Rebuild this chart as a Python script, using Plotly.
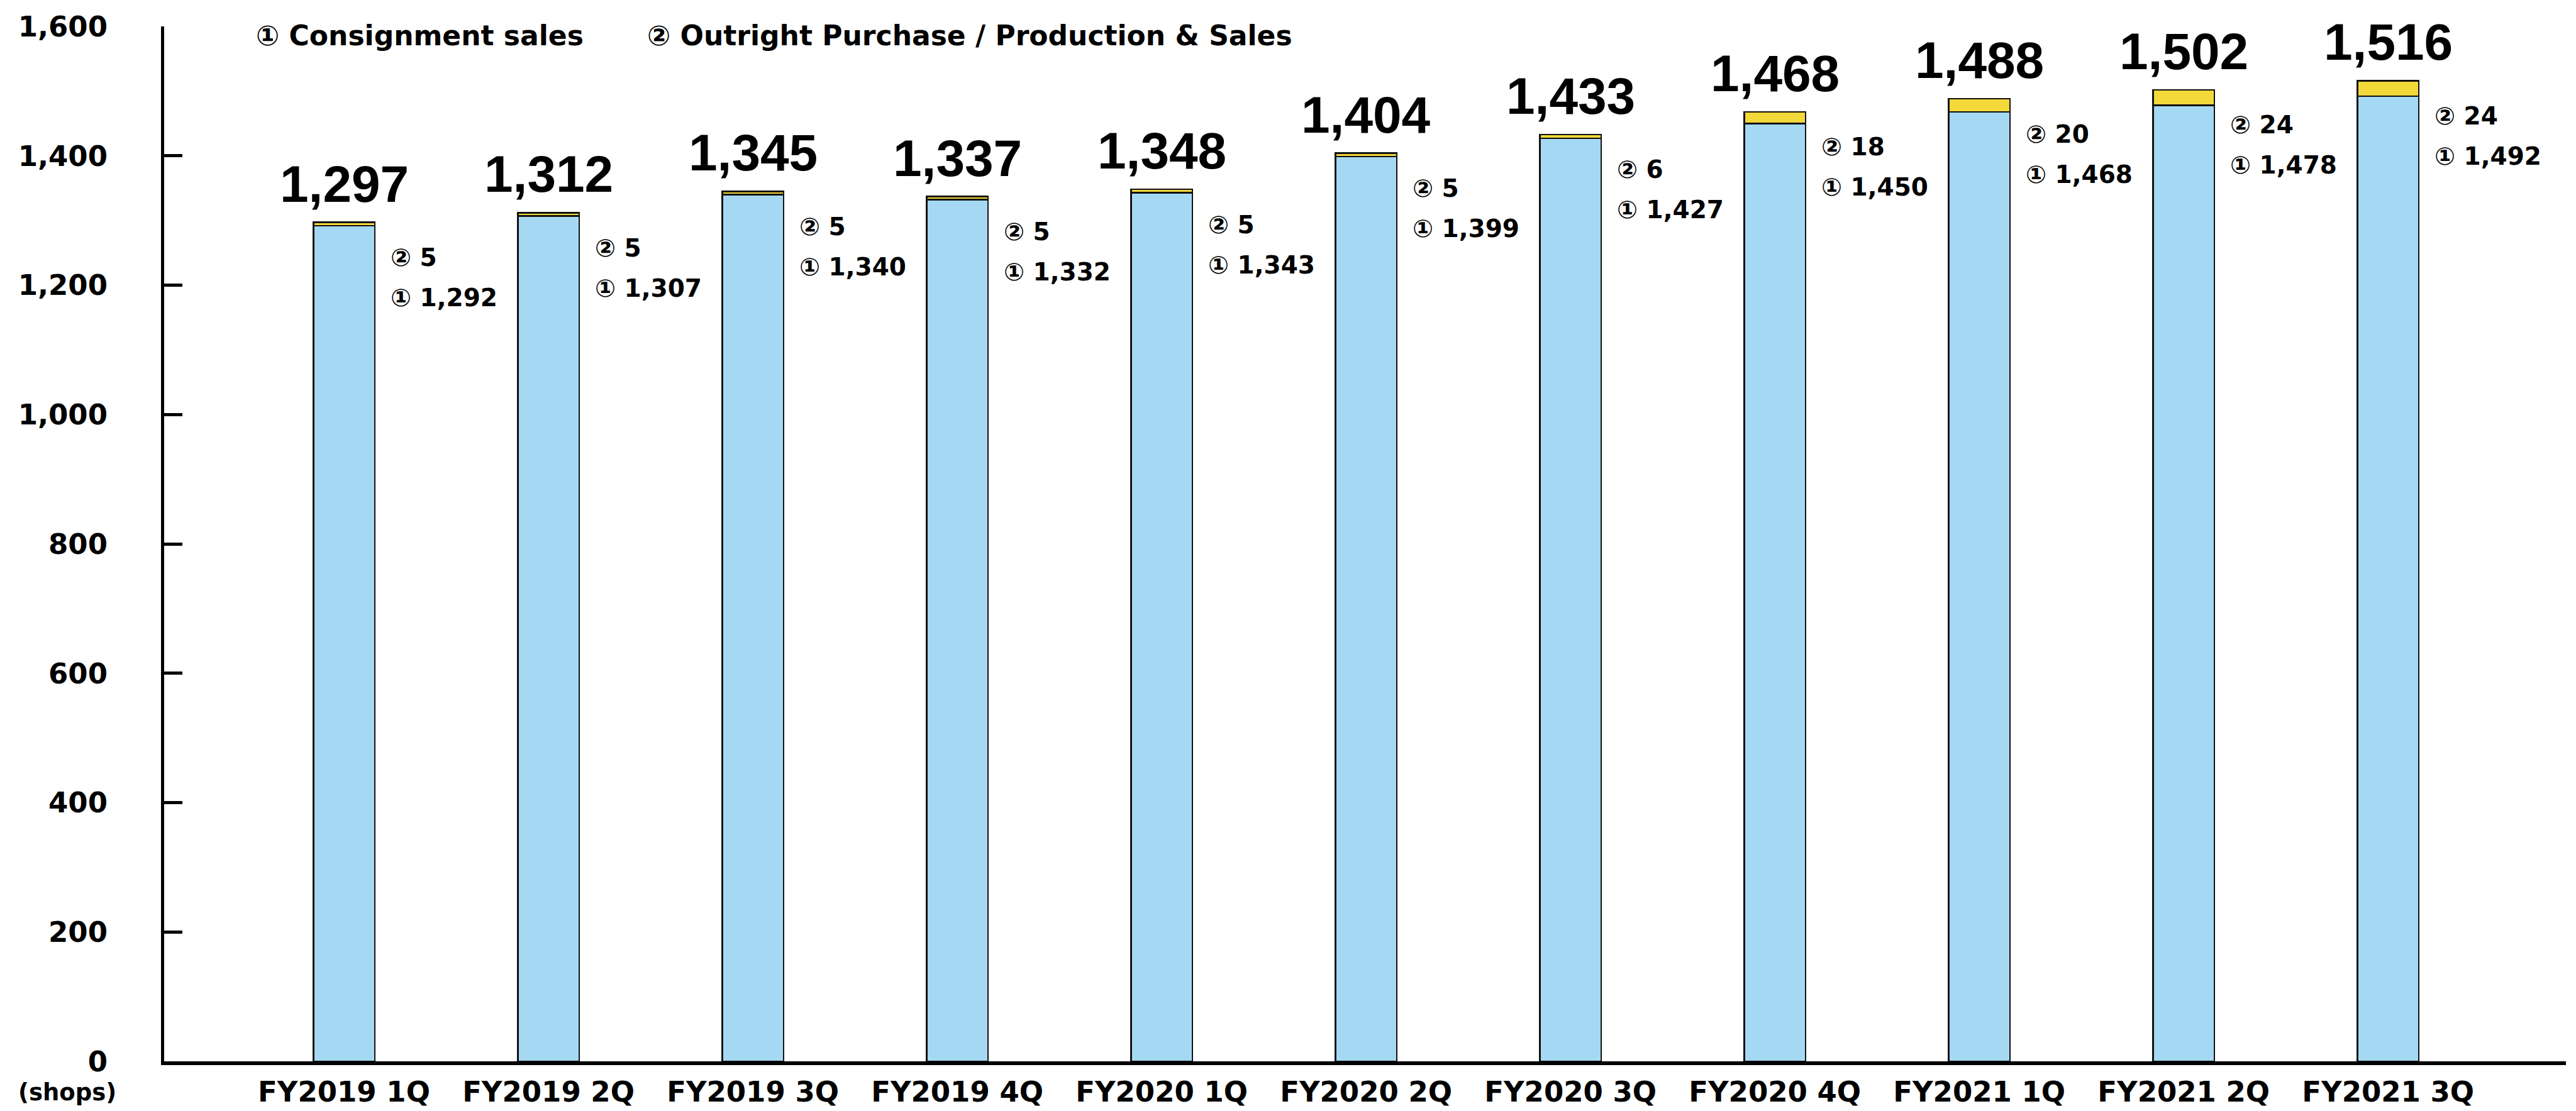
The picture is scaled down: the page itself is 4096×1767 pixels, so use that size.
import plotly.graph_objects as go

categories = ["FY2019 1Q", "FY2019 2Q", "FY2019 3Q", "FY2019 4Q", "FY2020 1Q", "FY2020 2Q",
              "FY2020 3Q", "FY2020 4Q", "FY2021 1Q", "FY2021 2Q", "FY2021 3Q"]
consignment = [1292, 1307, 1340, 1332, 1343, 1399, 1427, 1450, 1468, 1478, 1492]
outright = [5, 5, 5, 5, 5, 5, 6, 18, 20, 24, 24]
totals = [1297, 1312, 1345, 1337, 1348, 1404, 1433, 1468, 1488, 1502, 1516]
y_ticks = [0, 200, 400, 600, 800, 1000, 1200, 1400, 1600]

BLUE = "#A5D9F3"
YELLOW = "#F3D83A"
SMALL_FONT = "DejaVu Sans, Liberation Sans, sans-serif"
BIG_FONT = "Liberation Sans, Arial, sans-serif"
BAR_W = 0.30

fig = go.Figure()
fig.add_trace(go.Bar(x=categories, y=consignment, width=BAR_W, name="① Consignment sales",
                     marker=dict(color=BLUE, line=dict(color="#111111", width=2.5))))
fig.add_trace(go.Bar(x=categories, y=outright, width=BAR_W, name="② Outright Purchase / Production & Sales",
                     marker=dict(color=YELLOW, line=dict(color="#111111", width=2.5))))

annotations = []
for cat, tot, c, o in zip(categories, totals, consignment, outright):
    annotations.append(dict(x=cat, y=tot, xref="x", yref="y", text=f"<b>{tot:,}</b>",
                            showarrow=False, yanchor="bottom", xanchor="center", yshift=14,
                            font=dict(family=BIG_FONT, size=82, color="#000000")))
    annotations.append(dict(x=cat, y=tot, xref="x", yref="y", text=f"<b>② {o:,}</b>",
                            showarrow=False, yanchor="middle", xanchor="left", xshift=72, yshift=-56,
                            font=dict(family=SMALL_FONT, size=39, color="#000000")))
    annotations.append(dict(x=cat, y=tot, xref="x", yref="y", text=f"<b>① {c:,}</b>",
                            showarrow=False, yanchor="middle", xanchor="left", xshift=72, yshift=-120,
                            font=dict(family=SMALL_FONT, size=39, color="#000000")))

annotations.append(dict(x=0.0377, y=0.991, xref="paper", yref="paper", text="<b>① Consignment sales</b>",
                        showarrow=False, xanchor="left", yanchor="middle",
                        font=dict(family=SMALL_FONT, size=44, color="#000000")))
annotations.append(dict(x=0.2005, y=0.991, xref="paper", yref="paper",
                        text="<b>② Outright Purchase / Production &amp; Sales</b>",
                        showarrow=False, xanchor="left", yanchor="middle",
                        font=dict(family=SMALL_FONT, size=44, color="#000000")))
annotations.append(dict(x=-0.0403, y=-0.030, xref="paper", yref="paper", text="<b>(shops)</b>",
                        showarrow=False, xanchor="center", yanchor="middle",
                        font=dict(family=SMALL_FONT, size=37, color="#000000")))

fig.update_layout(
    width=4096, height=1767,
    margin=dict(l=261, r=16, t=42, b=79),
    paper_bgcolor="white", plot_bgcolor="white",
    barmode="stack",
    showlegend=False,
    annotations=annotations,
    xaxis=dict(type="category", range=[-0.88, 10.87], showline=True, linecolor="#000000", linewidth=6,
               ticks="", showgrid=False, zeroline=False, ticklabelstandoff=4, automargin=False,
               tickfont=dict(family=SMALL_FONT, size=45, color="#000000", weight="bold")),
    yaxis=dict(range=[0, 1600], tickvals=y_ticks, tickformat=",d", showline=True, linecolor="#000000",
               linewidth=5, ticks="inside", ticklen=29, tickwidth=5, tickcolor="#000000",
               showgrid=False, zeroline=False, ticklabelstandoff=76, automargin=False,
               tickfont=dict(family=SMALL_FONT, size=45, color="#000000", weight="bold")),
)

fig.write_html("out.html")
